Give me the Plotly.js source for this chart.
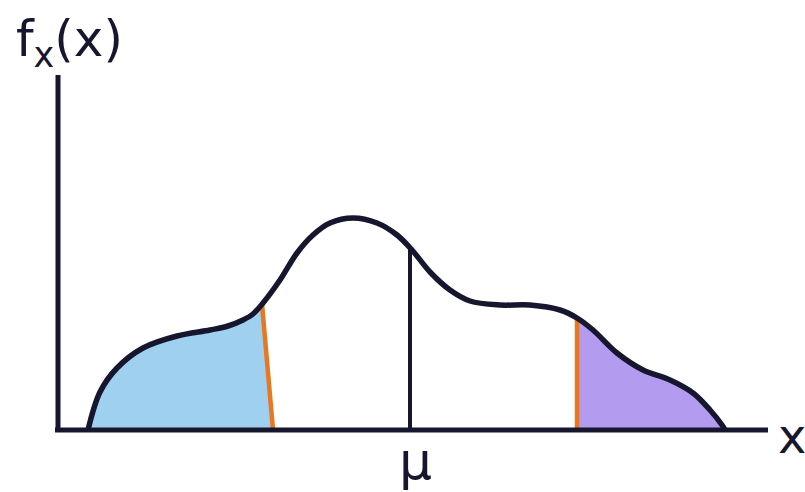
<!DOCTYPE html>
<html>
<head>
<meta charset="utf-8">
<script src="https://cdn.plot.ly/plotly-3.0.1.min.js"></script>
<style>html,body{margin:0;padding:0;background:#fff;}#chart{width:805px;height:492px;}</style>
</head>
<body>
<div id="chart"></div>
<script>
// Density curve f_x(x) (arbitrary units)
const curveX = [30, 42, 59, 85, 119, 152, 170, 185, 195, 205, 222, 239, 255, 272, 295, 319, 339, 354, 372, 392, 412, 442, 472, 502, 519, 535, 559, 585, 612, 635, 652, 664, 667];
const curveY = [0, 38, 62, 82, 94, 100, 104, 110, 116, 127, 150, 177, 195, 207, 212, 207, 195, 180, 158, 140, 129, 125, 125, 120, 112, 100, 77, 60, 50, 37, 20, 5, 0];
// Cut lines (orange): top point and foot on the x axis
const leftCut = {xTop: 204, yTop: 126, xBottom: 215};
const rightCut = {xTop: 519, yTop: 112, xBottom: 519};
// Mean
const mu = {x: 352, y: 181};
const labels = {yTitle: "f<sub>x</sub>(x)", xTitle: "x", mean: "μ"};

const navy = "#16162e";
const blue = "#9fd0ef";
const purple = "#b39cef";
const orange = "#e8771f";

// left tail: curve up to the cut, filled to zero
const lx = [], ly = [];
for (let i = 0; i < curveX.length; i++) if (curveX[i] < leftCut.xTop) { lx.push(curveX[i]); ly.push(curveY[i]); }
lx.push(leftCut.xTop); ly.push(leftCut.yTop);
// right tail: from the cut to the end, filled to zero
const rx = [rightCut.xTop], ry = [rightCut.yTop];
for (let i = 0; i < curveX.length; i++) if (curveX[i] > rightCut.xTop) { rx.push(curveX[i]); ry.push(curveY[i]); }

const traces = [
  {x: lx, y: ly, mode: "lines", fill: "tozeroy", fillcolor: blue, line: {width: 0, color: blue, shape: "spline", smoothing: 1}, hoverinfo: "skip"},
  {x: [leftCut.xTop, leftCut.xBottom, leftCut.xTop], y: [leftCut.yTop, 0, 0], mode: "lines", fill: "toself", fillcolor: blue, line: {width: 0, color: blue}, hoverinfo: "skip"},
  {x: rx, y: ry, mode: "lines", fill: "tozeroy", fillcolor: purple, line: {width: 0, color: purple, shape: "spline", smoothing: 1}, hoverinfo: "skip"},
  {x: [leftCut.xTop, leftCut.xBottom], y: [leftCut.yTop, 0], mode: "lines", line: {color: orange, width: 4.5}, hoverinfo: "skip"},
  {x: [rightCut.xTop, rightCut.xBottom], y: [rightCut.yTop, 0], mode: "lines", line: {color: orange, width: 4.5}, hoverinfo: "skip"},
  {x: [mu.x, mu.x], y: [mu.y, 0], mode: "lines", line: {color: navy, width: 4}, hoverinfo: "skip"},
  {x: curveX, y: curveY, mode: "lines", line: {color: navy, width: 5.5, shape: "spline", smoothing: 1}, hoverinfo: "skip"}
];

const layout = {
  width: 805, height: 492,
  margin: {l: 0, r: 0, t: 0, b: 0},
  paper_bgcolor: "#ffffff", plot_bgcolor: "#ffffff",
  showlegend: false,
  xaxis: {range: [-58, 747], visible: false, fixedrange: true},
  yaxis: {range: [-62, 430], visible: false, fixedrange: true},
  shapes: [
    {type: "line", x0: -3, x1: 710, y0: 0, y1: 0, line: {color: navy, width: 5}, layer: "above"},
    {type: "line", x0: 0, x1: 0, y0: 0, y1: 355, line: {color: navy, width: 5}, layer: "above"}
  ],
  annotations: [
    {x: -44, y: 388, xanchor: "left", yanchor: "middle", text: labels.yTitle, showarrow: false,
     font: {family: "DejaVu Sans", size: 50, color: navy}},
    {x: 357, y: -31, xanchor: "center", yanchor: "middle", text: labels.mean, showarrow: false,
     font: {family: "DejaVu Sans", size: 52, color: navy}},
    {x: 718, y: -6, xanchor: "left", yanchor: "middle", text: labels.xTitle, showarrow: false,
     font: {family: "DejaVu Sans", size: 48, color: navy}}
  ]
};

Plotly.newPlot("chart", traces, layout, {displayModeBar: false, staticPlot: true});
</script>
</body>
</html>
